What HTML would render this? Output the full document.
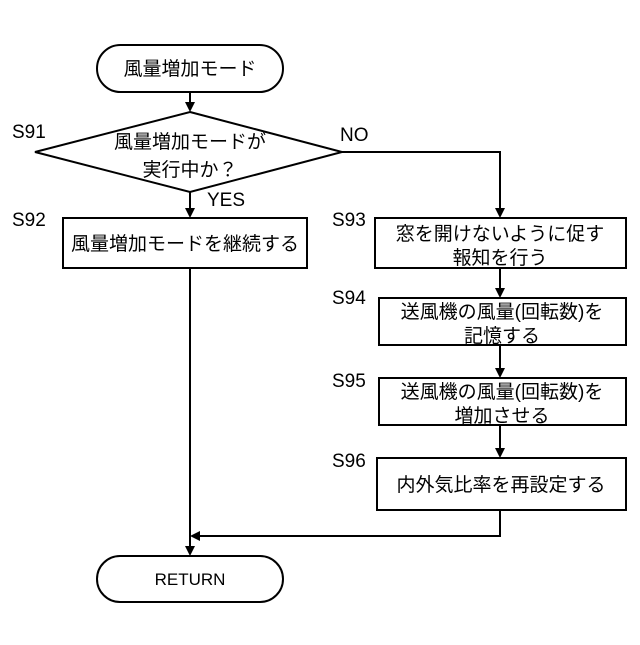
<!DOCTYPE html>
<html><head><meta charset="utf-8"><style>
html,body{margin:0;padding:0;background:#fff;}
svg text{font-family:"Liberation Sans","Noto Sans CJK JP",sans-serif;fill:#000;}
</style></head><body>
<svg width="640" height="640" viewBox="0 0 640 640" xmlns="http://www.w3.org/2000/svg">
<g stroke="#000" stroke-width="2" fill="none">
<rect x="97" y="45" width="186" height="47" rx="23.5"/>
<line x1="190" y1="92" x2="190" y2="104"/>
<polygon points="190,112 342,152 190,192 35,152"/>
<line x1="190" y1="192" x2="190" y2="210"/>
<polyline points="342,152 500,152 500,210"/>
<rect x="63" y="218" width="244" height="50"/>
<rect x="375" y="218" width="251" height="50"/>
<line x1="500" y1="268" x2="500" y2="290"/>
<rect x="379" y="298" width="247" height="47"/>
<line x1="500" y1="345" x2="500" y2="370"/>
<rect x="379" y="378" width="247" height="47"/>
<line x1="500" y1="425" x2="500" y2="450"/>
<rect x="377" y="458" width="249" height="52"/>
<polyline points="500,510 500,536 198,536"/>
<line x1="190" y1="268" x2="190" y2="548"/>
<rect x="97" y="556" width="186" height="46" rx="23"/>
</g>
<g fill="#000">
<polygon points="185,102 195,102 190,112"/>
<polygon points="185,208 195,208 190,218"/>
<polygon points="495,208 505,208 500,218"/>
<polygon points="495,288 505,288 500,298"/>
<polygon points="495,368 505,368 500,378"/>
<polygon points="495,448 505,448 500,458"/>
<polygon points="200,531 200,541 190,536"/>
<polygon points="185,546 195,546 190,556"/>
</g>
<g font-size="19" text-anchor="middle">
<text x="190" y="75">風量増加モード</text>
<text x="190" y="148">風量増加モードが</text>
<text x="190" y="176">実行中か？</text>
<text x="185" y="250">風量増加モードを継続する</text>
<text x="500" y="240">窓を開けないように促す</text>
<text x="500" y="264">報知を行う</text>
<text x="502" y="318">送風機の風量(回転数)を</text>
<text x="502" y="342">記憶する</text>
<text x="502" y="398">送風機の風量(回転数)を</text>
<text x="502" y="422">増加させる</text>
<text x="501" y="491">内外気比率を再設定する</text>
<text x="190" y="585" font-size="17">RETURN</text>
</g>
<g font-size="19">
<text x="12" y="138">S91</text>
<text x="340" y="141">NO</text>
<text x="207" y="206">YES</text>
<text x="12" y="226">S92</text>
<text x="332" y="226">S93</text>
<text x="332" y="304">S94</text>
<text x="332" y="387">S95</text>
<text x="332" y="467">S96</text>
</g>
</svg>
</body></html>
